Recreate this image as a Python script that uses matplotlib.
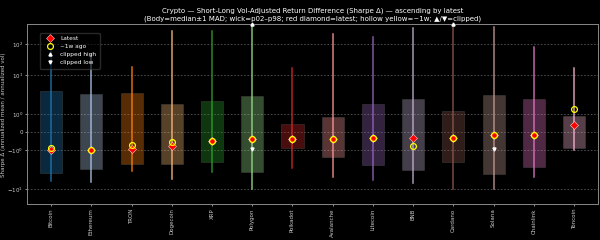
#sharpe delta candles per coin, sorted ascending by latest value
import numpy as np
import matplotlib
matplotlib.use("Agg")
import matplotlib.pyplot as plt
from matplotlib.lines import Line2D

coins = ["Bitcoin", "Ethereum", "TRON", "Dogecoin", "XRP", "Polygon", "Polkadot",
         "Avalanche", "Litecoin", "BNB", "Cardano", "Solana", "Chainlink", "Toncoin"]
colors = ["#1f77b4", "#aec7e8", "#ff7f0e", "#ffbb78", "#2ca02c", "#98df8a", "#d62728",
          "#ff9896", "#9467bd", "#c5b0d5", "#8c564b", "#c49c94", "#e377c2", "#f7b6d2"]

median = [0.03, 0.09, 0.60, -0.20, 0.08, -0.33, -0.22, -0.31, -0.27, -0.42, -0.37, -0.42, -0.10, 0.02]
mad = [3.91, 3.16, 2.85, 2.04, 2.11, 3.33, 0.67, 1.15, 2.10, 2.84, 1.59, 3.55, 2.62, 0.89]
p02 = [-6.0, -6.35, -3.33, -5.5, -3.53, -10.0, -2.89, -4.74, -5.76, -6.75, -10.0, -10.0, -4.91, -0.97]
p98 = [64.6, 48.0, 18.0, 264.0, 264.0, 1000.0, 17.5, 205.0, 173.0, 333.0, 1000.0, 354.0, 80.7, 17.5]
latest = [-0.98, -0.97, -0.93, -0.76, -0.48, -0.39, -0.37, -0.38, -0.32, -0.30, -0.31, -0.17, -0.13, 0.39]
week_ago = [-0.89, -0.97, -0.69, -0.56, -0.48, -0.39, -0.37, -0.38, -0.32, -0.74, -0.31, -0.17, -0.13, 1.37]

clip_low_names = ["Polygon", "Solana"]
clip_low_vals = [-0.93, -0.93]

ytick_vals = [-10, -1, 0, 1, 10, 100]
ytick_labels = [r"$-10^{1}$", r"$-10^{0}$", "0", r"$10^{0}$", r"$10^{1}$", r"$10^{2}$"]
Y_LO = -30.0
Y_HI = 425.0

#compressed symmetric scale (linear under 1, log-ish above, top decade squeezed)
D1 = 2.17
D2 = 1.73
def fwd(y):
	y = np.asarray(y, dtype=float)
	a = np.abs(y)
	la = np.log10(np.maximum(a, 1.0))
	g = np.where(a <= 1, a, np.where(a <= 10, 1 + D1*la, 1 + D1 + D2*(la - 1)))
	return np.sign(y)*g

def inv(g):
	g = np.asarray(g, dtype=float)
	b = np.abs(g)
	a = np.where(b <= 1, b, np.where(b <= 1 + D1, 10**((b - 1)/D1), 10**(1 + (b - 1 - D1)/D2)))
	return np.sign(g)*a

fig = plt.figure(figsize=(6, 2.4), dpi=100, facecolor="black")
ax = fig.add_axes([0.045, 0.149, 0.952, 0.749])
ax.set_facecolor("black")
ax.set_yscale("function", functions=(fwd, inv))

x = np.arange(len(coins))
W = 0.55
for i in range(len(coins)):
	lo = median[i] - mad[i]
	hi = median[i] + mad[i]
	ax.bar(x[i], hi - lo, bottom=lo, width=W, color=colors[i], alpha=0.35,
	       edgecolor="#555555", linewidth=0.7, zorder=2)
	ax.plot([x[i], x[i]], [p02[i], p98[i]], color=colors[i], lw=1.1, alpha=0.85, zorder=3)

ax.plot(x, latest, linestyle="none", marker="D", ms=3.6, mfc="red", mec="#ffcccc", mew=0.4, zorder=5)
ax.plot(x, week_ago, linestyle="none", marker="o", ms=4.2, mfc="none", mec="yellow", mew=0.9, zorder=6)

#clipped markers
hi_idx = [i for i in range(len(coins)) if p98[i] > Y_HI]
ax.plot(x[hi_idx], [Y_HI]*len(hi_idx), linestyle="none", marker="^", ms=2.2, color="white", clip_on=False, zorder=7)
lo_idx = [coins.index(n) for n in clip_low_names]
ax.plot(x[lo_idx], clip_low_vals, linestyle="none", marker="v", ms=2.2, color="white", zorder=7)

ax.set_ylim(Y_LO, Y_HI)
ax.set_xlim(-0.6, len(coins) - 0.4)
ax.set_yticks(ytick_vals)
ax.set_yticklabels(ytick_labels)
ax.yaxis.set_minor_locator(matplotlib.ticker.NullLocator())
ax.set_xticks(x)
ax.set_xticklabels(coins, rotation=90)
ax.tick_params(axis="both", colors="#cccccc", labelsize=4.0, length=1.5, width=0.5, pad=1.5)
ax.grid(axis="y", color="#555555", linestyle=(0, (2, 2)), linewidth=0.6, zorder=0)
for s in ax.spines.values():
	s.set_color("#888888")
	s.set_linewidth(0.7)

ax.set_ylabel("Sharpe Δ (annualized mean / annualized vol)", color="#cccccc", fontsize=4.0)
ax.yaxis.set_label_coords(-0.036, 0.5)
ax.set_title("Crypto — Short-Long Vol-Adjusted Return Difference (Sharpe Δ) — ascending by latest\n"
             "(Body=median±1 MAD; wick=p02–p98; red diamond=latest; hollow yellow=~1w; ▲/▼=clipped)",
             color="white", fontsize=5, pad=3, linespacing=1.25)

handles = [
	Line2D([], [], linestyle="none", marker="D", ms=3.6, mfc="red", mec="#ffcccc", mew=0.4, label="Latest"),
	Line2D([], [], linestyle="none", marker="o", ms=4.2, mfc="none", mec="yellow", mew=0.9, label="~1w ago"),
	Line2D([], [], linestyle="none", marker="^", ms=2.2, color="white", label="clipped high"),
	Line2D([], [], linestyle="none", marker="v", ms=2.2, color="white", label="clipped low"),
]
leg = ax.legend(handles=handles, loc="upper left", bbox_to_anchor=(0.018, 0.97), fontsize=4.2,
                facecolor="black", edgecolor="#444444", framealpha=0.6, labelcolor="white",
                handletextpad=0.8, borderpad=0.6, labelspacing=0.5)
leg.set_zorder(10)

fig.savefig("out.png", dpi=100, facecolor="black")
